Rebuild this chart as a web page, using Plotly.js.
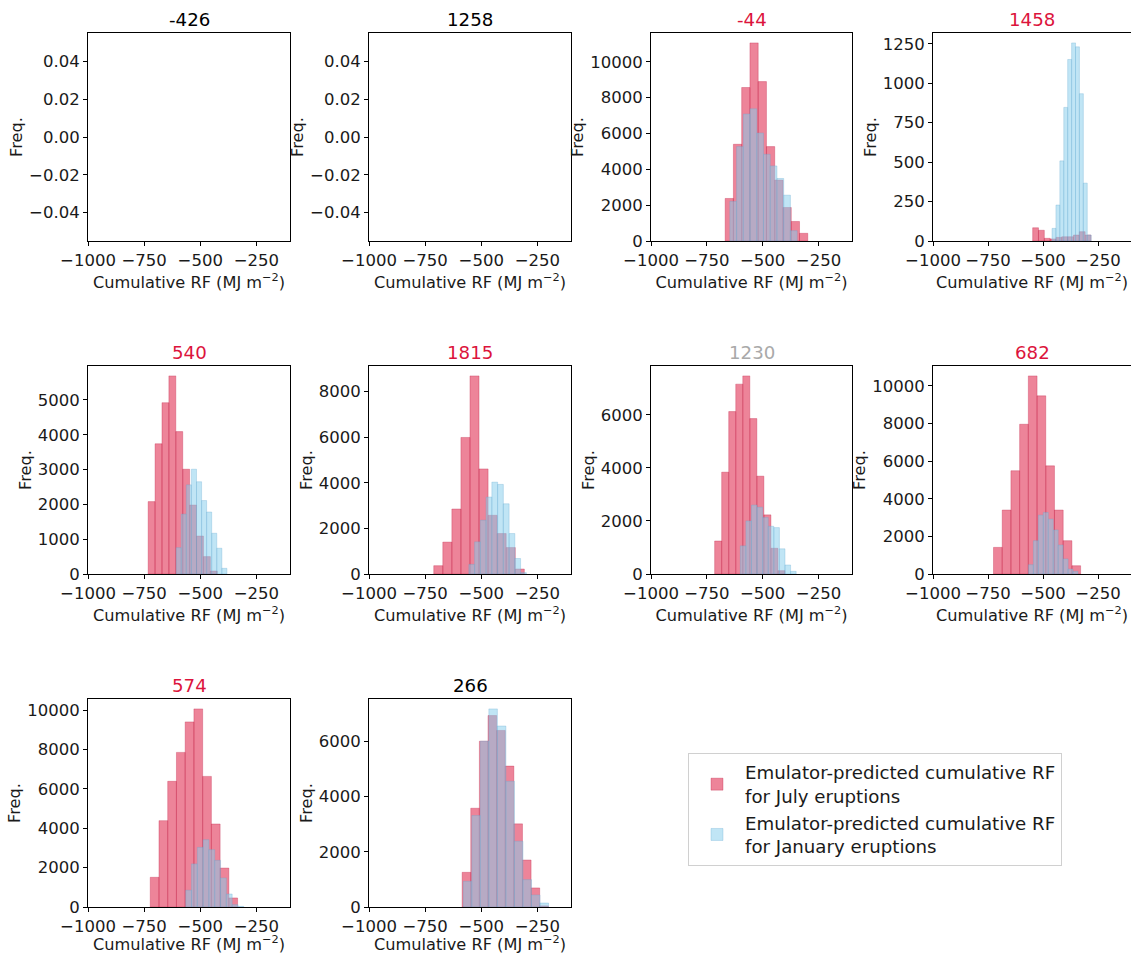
<!DOCTYPE html>
<html>
<head>
<meta charset="utf-8">
<script src="https://cdn.plot.ly/plotly-3.0.1.min.js"></script>
<style>html,body{margin:0;padding:0;background:#fff;}#chart{width:1131px;height:954px;}</style>
</head>
<body>
<div id="chart"></div>
<script>
// ---------------- DATA ----------------
const panelTitles = ['-426', '1258', '-44', '1458', '540', '1815', '1230', '682', '574', '266'];
const xTicks = [-1000, -750, -500, -250];
const xTickLabels = ['\u22121000', '\u2212750', '\u2212500', '\u2212250'];
const xLimits = [-1000, -100];

// July eruptions: histogram range [lo, hi] (10 equal bins) and counts
const julyRange = [null, null, [-668, -298], [-547, -282], [-732, -424], [-711.5, -308], [-715, -400], [-725, -329], [-722.7, -333.5], [-585, -201]];
const julyCounts = [
  [], [],
  [2375, 5400, 8570, 11060, 8900, 5270, 3400, 1870, 1090, 430],
  [84, 68, 17, 13, 23, 27, 27, 38, 59, 38],
  [2080, 3740, 4920, 5690, 4090, 3010, 1980, 1090, 500, 86],
  [364, 1400, 2850, 5990, 8690, 4610, 2575, 1775, 1160, 218],
  [1245, 3840, 6125, 7160, 7470, 5860, 3690, 2230, 970, 126],
  [1415, 3400, 5490, 7960, 10530, 9470, 5750, 3400, 1770, 440],
  [1510, 4390, 6390, 7860, 9410, 10070, 6640, 4220, 1980, 460],
  [1255, 3575, 6000, 6930, 6390, 5100, 3010, 1700, 690, 40]
];
// January eruptions
const janRange = [null, null, [-647, -345.6], [-459, -281], [-607, -381], [-555, -299], [-600, -350], [-566, -341], [-564.6, -306], [-580, -200]];
const janCounts = [
  [], [],
  [2210, 5270, 7090, 7380, 6030, 4840, 4190, 3490, 2560, 575],
  [80, 228, 508, 847, 1151, 1256, 1231, 934, 367, 38],
  [757, 1720, 2560, 3010, 2650, 2110, 1780, 1170, 740, 163],
  [420, 1410, 2360, 3375, 4030, 3930, 3080, 1775, 680, 60],
  [1060, 2000, 2600, 2520, 2130, 1800, 1750, 950, 340, 100],
  [495, 1770, 3130, 3270, 2920, 2340, 1540, 800, 265, 140],
  [850, 2190, 3030, 3420, 2915, 2370, 1475, 660, 120, 30],
  [930, 3310, 6000, 7170, 6550, 4550, 2380, 990, 435, 145]
];
const emptyYTicks = [-0.04, -0.02, 0, 0.02, 0.04];
const emptyYTickLabels = ['\u22120.04', '\u22120.02', '0.00', '0.02', '0.04'];
const seriesNames = ['Emulator-predicted cumulative RF<br>for July eruptions', 'Emulator-predicted cumulative RF<br>for January eruptions'];

// ---------------- STYLE ----------------
const titleColors = ['#000', '#000', 'crimson', 'crimson', 'crimson', 'crimson', 'darkgray', 'crimson', 'crimson', '#000'];
const yDticks = [0.02, 0.02, 2000, 250, 1000, 2000, 2000, 2000, 2000, 2000];
const W = 1131, H = 954;
const colPx = [[88, 290], [369, 571], [651, 852], [933, 1131]];
const rowPx = [[33, 241], [366, 574], [699, 907]];
const julyFill = 'rgba(220,20,60,0.52)', julyLine = 'rgba(190,20,60,0.3)';
const janFill = 'rgba(135,206,235,0.52)', janLine = 'rgba(100,170,210,0.3)';
const FONT = 'DejaVu Sans, sans-serif';
const TXT = '#1a1a1a';
const TICK = 16.5, AXT = 16.2, TTL = 18.2, LEG = 18.2;

function bins(range, counts) {
  const n = counts.length;
  const w = (range[1] - range[0]) / n;
  return {x: counts.map((_, i) => range[0] + (i + 0.5) * w), width: counts.map(() => w)};
}

const traces = [];
const layout = {
  width: W, height: H,
  margin: {l: 0, r: 0, t: 0, b: 0},
  paper_bgcolor: '#fff', plot_bgcolor: '#fff',
  font: {family: FONT, size: TICK, color: TXT},
  separators: '.',
  barmode: 'overlay', bargap: 0,
  showlegend: true,
  legend: {
    x: 688 / W, y: 1 - 753 / H, xanchor: 'left', yanchor: 'top',
    bgcolor: '#fff', bordercolor: '#d0d0d0', borderwidth: 1,
    font: {family: FONT, size: LEG, color: TXT},
    tracegroupgap: 0, itemwidth: 46
  },
  annotations: []
};

panelTitles.forEach((title, i) => {
  const r = Math.floor(i / 4), c = i % 4;
  const k = i + 1;
  const xa = 'xaxis' + (k === 1 ? '' : k), ya = 'yaxis' + (k === 1 ? '' : k);
  const xr = 'x' + (k === 1 ? '' : k), yr = 'y' + (k === 1 ? '' : k);
  let yRange = [-0.055, 0.055];
  if (julyCounts[i].length) {
    const jb = bins(julyRange[i], julyCounts[i]);
    traces.push({type: 'bar', x: jb.x, y: julyCounts[i], width: jb.width, xaxis: xr, yaxis: yr,
      name: seriesNames[0], legendgroup: 'july', showlegend: i === 2,
      marker: {color: julyFill, line: {color: julyLine, width: 1}}, hoverinfo: 'x+y'});
    const nb = bins(janRange[i], janCounts[i]);
    traces.push({type: 'bar', x: nb.x, y: janCounts[i], width: nb.width, xaxis: xr, yaxis: yr,
      name: seriesNames[1], legendgroup: 'jan', showlegend: i === 2,
      marker: {color: janFill, line: {color: janLine, width: 1}}, hoverinfo: 'x+y'});
    const mx = Math.max(...julyCounts[i], ...janCounts[i]);
    yRange = [0, mx * 1.05];
  } else {
    // empty panel: a trace with no points so the axes are drawn
    traces.push({type: 'scatter', mode: 'markers', x: [null], y: [null], xaxis: xr, yaxis: yr,
      showlegend: false, hoverinfo: 'skip'});
  }
  const axCommon = {showline: true, mirror: true, linecolor: '#000', linewidth: 1,
    ticks: 'outside', ticklen: 4, tickwidth: 1, tickcolor: '#000',
    showgrid: false, zeroline: false, tickfont: {family: FONT, size: TICK, color: TXT}};
  layout[xa] = Object.assign({}, axCommon, {
    domain: [colPx[c][0] / W, Math.min(1, colPx[c][1] / W)],
    anchor: yr, range: xLimits, tickmode: 'array', tickvals: xTicks, ticktext: xTickLabels,
    title: {text: 'Cumulative RF (MJ m<sup>\u22122</sup>)', font: {family: FONT, size: AXT, color: TXT}, standoff: 0}
  });
  const yax = Object.assign({}, axCommon, {
    domain: [1 - rowPx[r][1] / H, 1 - rowPx[r][0] / H],
    anchor: xr, range: yRange, tick0: 0, dtick: yDticks[i],
    tickformat: 'd',
    title: {text: 'Freq.', font: {family: FONT, size: AXT, color: TXT}, standoff: 2}
  });
  if (!julyCounts[i].length) {
    yax.tickmode = 'array'; yax.tickvals = emptyYTicks; yax.ticktext = emptyYTickLabels;
    delete yax.tickformat;
  }
  layout[ya] = yax;
  layout.annotations.push({
    xref: 'paper', yref: 'paper',
    x: (colPx[c][0] + Math.min(colPx[c][1], W)) / 2 / W, y: 1 - rowPx[r][0] / H,
    xanchor: 'center', yanchor: 'bottom', yshift: 1, showarrow: false,
    text: title, font: {family: FONT, size: TTL, color: titleColors[i]}
  });
});

Plotly.newPlot('chart', traces, layout, {displayModeBar: false, staticPlot: true});
</script>
</body>
</html>
